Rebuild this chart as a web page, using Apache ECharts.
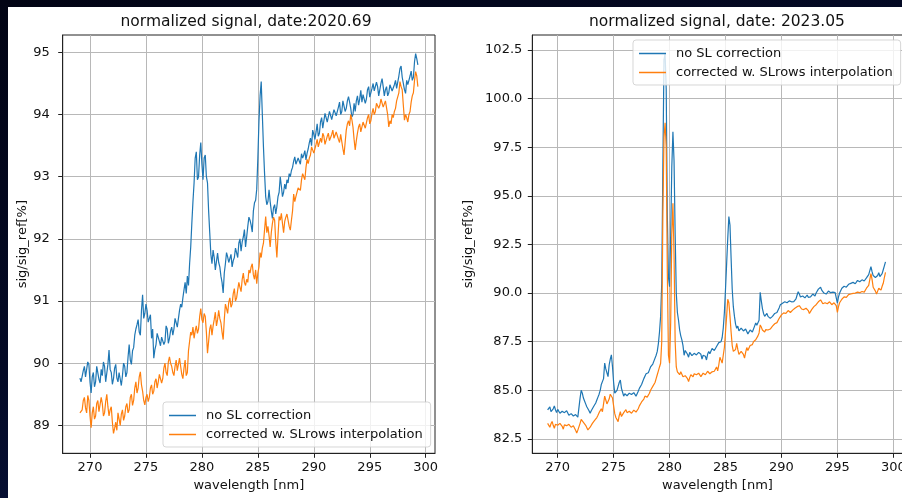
<!DOCTYPE html>
<html><head><meta charset="utf-8">
<script src="https://cdn.jsdelivr.net/npm/echarts@6/dist/echarts.min.js"></script>
<style>
html,body{margin:0;padding:0;width:902px;height:498px;overflow:hidden;background:linear-gradient(160deg,#020414 0%,#040a26 45%,#0b1a52 100%);}
#panel{position:absolute;left:8px;top:7px;width:894px;height:491px;background:#fff;}
#chart{position:absolute;left:0;top:0;width:902px;height:498px;}
</style></head><body><div id="panel"></div><div id="chart"></div>
<script>
const wavelength = [
269.1,269.2,269.3,269.4,269.5,269.6,269.7,269.8,269.9,270.0,
270.1,270.2,270.3,270.4,270.5,270.6,270.7,270.8,270.9,271.0,
271.1,271.2,271.3,271.4,271.5,271.6,271.7,271.8,271.9,272.0,
272.1,272.2,272.3,272.4,272.5,272.6,272.7,272.8,272.9,273.0,
273.1,273.2,273.3,273.4,273.5,273.6,273.7,273.8,273.9,274.0,
274.1,274.2,274.3,274.4,274.5,274.6,274.7,274.8,274.9,275.0,
275.1,275.2,275.3,275.4,275.5,275.6,275.7,275.8,275.9,276.0,
276.1,276.2,276.3,276.4,276.5,276.6,276.7,276.8,276.9,277.0,
277.1,277.2,277.3,277.4,277.5,277.6,277.7,277.8,277.9,278.0,
278.1,278.2,278.3,278.4,278.5,278.6,278.7,278.8,278.9,279.0,
279.1,279.2,279.3,279.4,279.5,279.6,279.7,279.8,279.9,280.0,
280.1,280.2,280.3,280.4,280.5,280.6,280.7,280.8,280.9,281.0,
281.1,281.2,281.3,281.4,281.5,281.6,281.7,281.8,281.9,282.0,
282.1,282.2,282.3,282.4,282.5,282.6,282.7,282.8,282.9,283.0,
283.1,283.2,283.3,283.4,283.5,283.6,283.7,283.8,283.9,284.0,
284.1,284.2,284.3,284.4,284.5,284.6,284.7,284.8,284.9,285.0,
285.1,285.2,285.3,285.4,285.5,285.6,285.7,285.8,285.9,286.0,
286.1,286.2,286.3,286.4,286.5,286.6,286.7,286.8,286.9,287.0,
287.1,287.2,287.3,287.4,287.5,287.6,287.7,287.8,287.9,288.0,
288.1,288.2,288.3,288.4,288.5,288.6,288.7,288.8,288.9,289.0,
289.1,289.2,289.3,289.4,289.5,289.6,289.7,289.8,289.9,290.0,
290.1,290.2,290.3,290.4,290.5,290.6,290.7,290.8,290.9,291.0,
291.1,291.2,291.3,291.4,291.5,291.6,291.7,291.8,291.9,292.0,
292.1,292.2,292.3,292.4,292.5,292.6,292.7,292.8,292.9,293.0,
293.1,293.2,293.3,293.4,293.5,293.6,293.7,293.8,293.9,294.0,
294.1,294.2,294.3,294.4,294.5,294.6,294.7,294.8,294.9,295.0,
295.1,295.2,295.3,295.4,295.5,295.6,295.7,295.8,295.9,296.0,
296.1,296.2,296.3,296.4,296.5,296.6,296.7,296.8,296.9,297.0,
297.1,297.2,297.3,297.4,297.5,297.6,297.7,297.8,297.9,298.0,
298.1,298.2,298.3,298.4,298.5,298.6,298.7,298.8,298.9,299.0,
299.1,299.2,299.3];

// left panel (date 2020.69)
const leftNoSL = [
89.76,89.70,89.72,89.88,89.95,89.78,89.80,90.02,89.98,89.70,
89.52,89.78,89.85,89.62,89.70,89.95,89.92,89.74,89.68,89.90,
89.80,90.02,89.95,89.70,89.72,89.98,90.21,89.90,89.85,89.66,
89.75,89.92,89.98,89.76,89.70,89.85,89.88,89.64,89.80,90.00,
89.95,89.78,89.85,90.10,90.30,90.05,89.98,90.20,90.25,90.45,
90.55,90.62,90.70,90.50,90.45,90.85,91.10,90.72,90.80,90.95,
90.85,90.66,90.64,90.78,90.40,90.55,90.08,90.22,90.30,90.48,
90.50,90.35,90.28,90.42,90.45,90.30,90.35,90.60,90.55,90.32,
90.40,90.52,90.58,90.45,90.55,90.72,90.69,90.58,90.60,90.85,
90.95,90.90,91.05,91.18,91.30,91.12,91.40,91.25,91.60,91.87,
92.25,92.60,92.90,93.30,93.40,92.95,93.00,93.35,93.55,93.20,
92.95,93.30,93.35,93.00,92.90,92.45,92.10,91.75,91.60,91.82,
91.70,91.50,91.50,91.77,91.62,91.55,91.40,91.30,91.13,91.45,
91.60,91.78,91.71,91.62,91.60,91.75,91.55,91.65,91.70,91.85,
91.82,91.70,91.93,92.00,91.80,91.95,92.03,92.15,91.87,92.03,
92.20,92.35,92.30,92.22,92.11,92.45,92.58,92.62,92.80,93.30,
93.90,94.30,94.53,94.00,93.48,93.05,92.68,92.55,92.60,92.79,
92.60,92.45,92.33,92.50,92.55,92.40,92.52,92.68,92.75,93.00,
92.85,92.68,92.75,92.88,92.80,92.95,92.90,93.05,93.00,93.10,
93.15,93.25,93.32,93.20,93.22,93.30,93.30,93.20,93.37,93.30,
93.35,93.42,93.27,93.38,93.45,93.55,93.62,93.50,93.75,93.68,
93.60,93.72,93.85,93.65,93.70,93.88,93.95,93.78,93.80,94.02,
94.00,93.88,93.85,94.05,94.07,93.92,93.90,94.08,94.10,93.98,
93.95,94.12,94.20,94.00,94.05,94.22,94.25,94.05,94.10,94.22,
94.29,94.20,94.10,93.96,94.00,94.18,94.05,94.22,94.30,94.15,
94.25,94.39,94.20,94.32,94.30,94.18,94.25,94.40,94.45,94.28,
94.30,94.42,94.50,94.38,94.35,94.52,94.45,94.30,94.40,94.50,
94.58,94.45,94.30,94.40,94.45,94.30,94.35,94.48,94.50,94.38,
94.40,94.48,94.55,94.42,94.45,94.62,94.74,94.78,94.60,94.50,
94.40,94.34,94.55,94.48,94.45,94.62,94.70,94.55,94.60,94.85,
94.98,94.90,94.80];
const leftSLrows = [
89.20,89.18,89.25,89.40,89.45,89.28,89.20,89.48,89.40,89.15,
88.96,89.20,89.30,89.10,89.15,89.35,89.40,89.22,89.25,89.45,
89.35,89.15,89.20,89.38,89.50,89.30,89.15,89.25,89.30,89.05,
88.87,88.95,89.05,88.92,89.20,89.10,89.00,89.18,89.25,89.08,
89.15,89.30,89.35,89.20,89.25,89.45,89.50,89.32,89.40,89.60,
89.70,89.52,89.60,89.78,89.86,89.65,89.55,89.40,89.33,89.45,
89.50,89.38,89.45,89.60,89.65,89.50,89.55,89.70,89.75,89.60,
89.70,89.82,89.85,89.68,89.75,89.92,90.00,89.85,89.80,90.02,
90.10,90.00,89.95,89.85,89.80,89.95,90.05,89.88,89.90,90.08,
89.95,89.82,89.75,89.92,90.05,89.80,89.85,90.20,90.35,90.50,
90.45,90.58,90.40,90.52,90.60,90.48,90.55,90.75,90.88,90.70,
90.65,90.80,90.75,90.50,90.16,90.35,90.55,90.62,90.45,90.60,
90.70,90.82,90.60,90.70,90.85,90.72,90.65,90.50,90.38,90.70,
90.95,90.88,90.80,90.98,91.05,90.90,90.95,91.12,91.20,91.00,
91.05,91.18,91.30,91.22,91.15,91.35,91.45,91.30,91.25,91.35,
91.30,91.50,91.45,91.55,91.60,91.42,91.35,91.50,91.28,91.45,
91.55,91.78,91.70,91.85,91.93,92.15,92.36,92.10,92.20,92.05,
91.87,92.10,92.25,92.35,92.30,91.95,91.70,92.05,92.36,92.30,
92.41,92.25,92.10,92.28,92.35,92.40,92.30,92.20,92.14,92.30,
92.45,92.72,92.60,92.68,92.70,92.82,92.85,92.78,92.95,93.05,
93.00,92.95,93.15,93.28,93.21,93.30,93.35,93.48,93.45,93.38,
93.40,93.52,93.60,93.48,93.45,93.62,93.55,93.70,93.65,93.52,
93.50,93.65,93.70,93.58,93.55,93.68,93.75,93.62,93.60,93.72,
93.70,93.60,93.55,93.68,93.65,93.45,93.35,93.55,93.75,93.85,
93.90,93.82,94.00,93.92,93.80,93.60,93.43,93.58,93.70,93.80,
93.85,93.72,93.75,93.88,93.90,93.78,93.80,93.95,94.00,93.85,
93.90,94.02,94.10,94.00,94.05,94.18,94.20,94.10,94.15,94.25,
94.25,94.12,94.15,94.22,94.20,94.00,93.80,93.90,93.85,94.00,
93.95,94.05,94.10,94.22,94.20,94.35,94.53,94.45,94.40,94.15,
93.91,94.00,93.95,93.88,94.00,94.05,94.20,94.30,94.35,94.55,
94.69,94.62,94.45];

// right panel (date 2023.05)
const rightNoSL = [
83.99,84.08,84.15,83.90,83.80,84.05,84.20,84.00,83.85,84.02,
83.95,83.82,83.75,83.92,84.00,83.85,83.80,83.95,83.90,83.72,
83.70,83.80,83.85,83.68,83.60,83.75,83.80,83.62,83.70,84.60,
85.00,84.85,84.60,84.45,84.30,84.15,84.05,83.95,83.82,83.95,
84.00,84.15,84.25,84.35,84.50,84.65,84.80,85.00,85.30,85.40,
85.60,86.40,86.10,85.90,85.70,86.30,86.60,86.82,86.20,85.40,
84.85,84.95,85.00,85.20,85.40,85.53,85.10,84.90,84.70,84.82,
84.85,84.72,84.70,84.85,84.90,84.78,84.75,84.88,84.85,84.70,
84.80,84.95,85.10,85.05,85.30,85.45,85.60,85.70,85.85,85.80,
85.90,86.05,86.20,86.25,86.35,86.50,86.60,86.80,87.00,87.40,
88.00,88.80,90.50,96.50,102.00,102.30,100.50,94.00,90.80,90.33,
93.00,96.50,98.30,96.80,93.00,90.00,89.00,88.60,88.10,87.80,
87.59,87.30,86.80,87.05,87.00,86.85,86.70,86.95,86.90,86.78,
86.75,86.90,86.95,86.82,86.80,86.95,87.00,86.85,86.60,86.80,
86.90,86.75,86.56,86.85,87.00,86.88,86.95,87.15,87.20,87.05,
87.10,87.25,87.30,87.45,87.55,87.50,87.70,88.20,89.00,90.20,
91.50,92.80,93.93,93.50,91.80,90.20,89.30,88.80,88.40,88.19,
88.30,88.05,88.00,88.20,88.25,88.05,87.95,88.15,88.10,87.90,
87.90,88.10,88.20,88.00,88.05,88.30,88.46,88.35,88.30,88.60,
90.04,89.60,89.20,88.95,88.80,88.90,88.95,88.80,88.75,88.70,
88.70,88.80,88.85,88.95,89.05,89.00,89.10,89.25,89.40,89.35,
89.48,89.52,89.55,89.45,89.50,89.58,89.60,89.50,89.55,89.62,
89.56,89.65,89.70,89.90,90.07,89.95,89.80,89.75,89.85,89.80,
89.75,89.85,89.90,89.78,89.70,89.80,89.85,89.95,89.90,89.85,
90.00,90.08,90.20,90.25,90.30,90.15,90.10,90.00,90.05,89.95,
90.00,90.10,90.15,90.02,89.95,90.05,90.10,90.02,90.00,89.48,
89.80,90.00,90.10,90.25,90.30,90.35,90.40,90.30,90.35,90.45,
90.55,90.50,90.45,90.55,90.60,90.48,90.50,90.65,90.70,90.58,
90.55,90.68,90.75,90.62,90.65,90.78,90.80,90.95,90.90,91.36,
91.10,90.90,90.90,90.80,90.75,90.90,91.05,90.85,90.80,91.00,
91.20,91.40,91.60];
const rightSLrows = [
83.30,83.22,83.10,83.28,83.40,83.20,83.05,83.25,83.35,83.20,
83.15,83.30,83.40,83.15,83.00,83.22,83.30,83.18,83.10,83.25,
83.25,83.10,83.00,83.18,83.15,82.95,82.80,82.95,83.05,83.30,
83.50,83.45,83.35,83.28,83.20,83.10,82.96,83.00,83.10,83.20,
83.30,83.38,83.45,83.50,83.60,83.72,83.85,83.95,84.05,83.90,
84.00,84.70,84.50,84.30,84.20,84.55,84.80,84.75,84.60,84.20,
83.80,83.60,83.50,83.39,83.70,83.90,83.65,83.75,83.85,83.95,
84.00,83.85,83.80,83.92,83.95,83.82,83.85,83.98,84.00,83.88,
83.90,84.05,84.20,84.25,84.40,84.48,84.55,84.70,84.80,84.65,
84.70,84.85,85.00,85.10,85.20,85.30,85.40,85.60,85.80,86.00,
86.20,86.39,87.50,94.00,98.00,98.76,97.50,91.00,86.80,86.39,
88.50,93.00,94.62,92.00,87.50,86.20,85.95,85.90,85.80,85.95,
85.90,85.70,85.60,85.75,85.85,85.60,85.45,85.65,85.80,85.72,
85.70,85.85,85.95,85.80,85.75,85.88,85.90,85.70,85.80,85.88,
85.88,85.80,85.85,85.98,85.95,85.85,85.80,85.95,86.05,85.98,
86.05,86.20,86.00,86.30,86.70,86.55,86.40,86.80,87.20,88.00,
88.80,89.68,89.50,88.80,88.00,87.30,87.00,86.90,87.10,87.42,
87.10,86.85,86.80,87.00,87.05,86.85,86.65,86.95,87.20,87.05,
87.10,87.30,87.40,87.35,87.50,87.55,87.60,87.70,87.80,87.95,
88.36,88.25,88.10,88.00,88.00,88.12,88.20,88.10,88.05,88.15,
88.20,88.30,88.35,88.42,88.50,88.48,88.55,88.70,88.80,88.88,
88.95,88.98,89.00,88.95,89.05,89.10,89.10,89.00,89.05,89.12,
89.15,89.22,89.20,89.30,89.40,89.35,89.25,89.18,89.20,89.15,
89.10,89.22,89.30,89.10,88.95,89.05,89.15,89.25,89.30,89.35,
89.40,89.48,89.55,89.60,89.65,89.55,89.45,89.50,89.50,89.40,
89.45,89.50,89.55,89.45,89.40,89.48,89.50,89.42,89.35,89.00,
89.30,89.50,89.55,89.68,89.75,89.80,89.85,89.78,89.80,89.92,
90.00,89.95,89.90,89.98,90.05,90.00,89.95,90.05,90.10,90.02,
90.00,90.08,90.15,90.05,90.10,90.25,90.35,90.40,90.45,91.00,
90.70,90.30,90.30,90.10,89.95,90.10,90.25,90.20,90.15,90.35,
90.50,90.80,91.07];

const xTicks = [270, 275, 280, 285, 290, 295, 300];
const leftYTicks = [89, 90, 91, 92, 93, 94, 95];
const rightYTicks = [82.5, 85.0, 87.5, 90.0, 92.5, 95.0, 97.5, 100.0, 102.5];
const seriesNames = ['no SL correction', 'corrected w. SLrows interpolation'];
const titles = ['normalized signal, date:2020.69', 'normalized signal, date: 2023.05'];
const xName = 'wavelength [nm]';
const yName = 'sig/sig_ref[%]';

const FONT = '"DejaVu Sans", sans-serif';
const INK = '#111';
const BLUE = '#1f77b4', ORANGE = '#ff7f0e';

function pairs(vals) { return wavelength.map((x, i) => [x, vals[i]]); }

function xAxisCfg(gridIndex, min, max) {
  return {
    type: 'value', gridIndex, min, max,
    name: xName, nameLocation: 'middle', nameGap: 26,
    nameTextStyle: { fontFamily: FONT, fontSize: 13, color: INK },
    axisLine: { show: true, lineStyle: { color: '#222', width: 1 } },
    axisTick: { show: true, length: 4.5, customValues: xTicks, lineStyle: { color: '#222', width: 1 } },
    axisLabel: { customValues: xTicks, margin: 8, fontFamily: FONT, fontSize: 13, color: INK,
      showMinLabel: true, showMaxLabel: true },
    splitLine: { show: true, lineStyle: { color: '#b8b8b8', width: 1 } }
  };
}
function yAxisCfg(gridIndex, min, max, ticks, margin, nameGap, fmt) {
  return {
    type: 'value', gridIndex, min, max,
    name: yName, nameLocation: 'middle', nameGap, nameRotate: 90,
    nameTextStyle: { fontFamily: FONT, fontSize: 13, color: INK },
    axisLine: { show: true, lineStyle: { color: '#222', width: 1 } },
    axisTick: { show: true, length: 4.5, customValues: ticks, lineStyle: { color: '#222', width: 1 } },
    axisLabel: { customValues: ticks, margin, fontFamily: FONT, fontSize: 13, color: INK, formatter: fmt },
    splitLine: { show: true, lineStyle: { color: '#b8b8b8', width: 1 } }
  };
}
function lineSeries(name, data, color, xi, yi) {
  return { type: 'line', name, data: pairs(data), xAxisIndex: xi, yAxisIndex: yi,
    symbol: 'none', showSymbol: false, lineStyle: { color, width: 1.2 }, itemStyle: { color },
    color, animation: false, silent: true, z: 3 };
}
function legendCfg(left, top) {
  return {
    left, top, orient: 'vertical', icon: 'rect', itemWidth: 27, itemHeight: 1.5, itemGap: 4,
    padding: [6, 8, 5, 6], backgroundColor: 'rgba(255,255,255,0.8)', borderColor: 'rgba(204,204,204,0.8)',
    borderWidth: 1, borderRadius: 3, selectedMode: false,
    textStyle: { fontFamily: FONT, fontSize: 13, color: INK, lineHeight: 15, padding: [0, 0, 0, 5] },
    data: seriesNames
  };
}

const chart = echarts.init(document.getElementById('chart'), null, { renderer: 'canvas' });
chart.setOption({
  animation: false,
  backgroundColor: 'transparent',
  grid: [
    { left: 62.7, top: 35, width: 372.3, height: 418.3, show: true, borderColor: '#222', borderWidth: 1, backgroundColor: 'transparent', containLabel: false, outerBoundsMode: 'none' },
    { left: 532.3, top: 35, width: 370.3, height: 418.3, show: true, borderColor: '#222', borderWidth: 1, backgroundColor: 'transparent', containLabel: false, outerBoundsMode: 'none' }
  ],
  xAxis: [xAxisCfg(0, 267.56, 300.83), xAxisCfg(1, 267.73, 300.83)],
  yAxis: [
    yAxisCfg(0, 88.55, 95.28, leftYTicks, 13, 33, v => String(Math.round(v))),
    yAxisCfg(1, 81.76, 103.27, rightYTicks, 10, 57, v => v.toFixed(1))
  ],
  legend: [legendCfg(163, 402), legendCfg(633, 40)],
  series: [
    lineSeries(seriesNames[0], leftNoSL, BLUE, 0, 0),
    lineSeries(seriesNames[1], leftSLrows, ORANGE, 0, 0),
    lineSeries(seriesNames[0], rightNoSL, BLUE, 1, 1),
    lineSeries(seriesNames[1], rightSLrows, ORANGE, 1, 1)
  ],
  graphic: [
    { type: 'text', x: 246, y: 22, style: { text: titles[0], font: '15.5px ' + FONT, fill: INK, align: 'center', verticalAlign: 'middle' } },
    { type: 'text', x: 717, y: 22, style: { text: titles[1], font: '15.5px ' + FONT, fill: INK, align: 'center', verticalAlign: 'middle' } }
  ]
});
</script>
</body></html>
